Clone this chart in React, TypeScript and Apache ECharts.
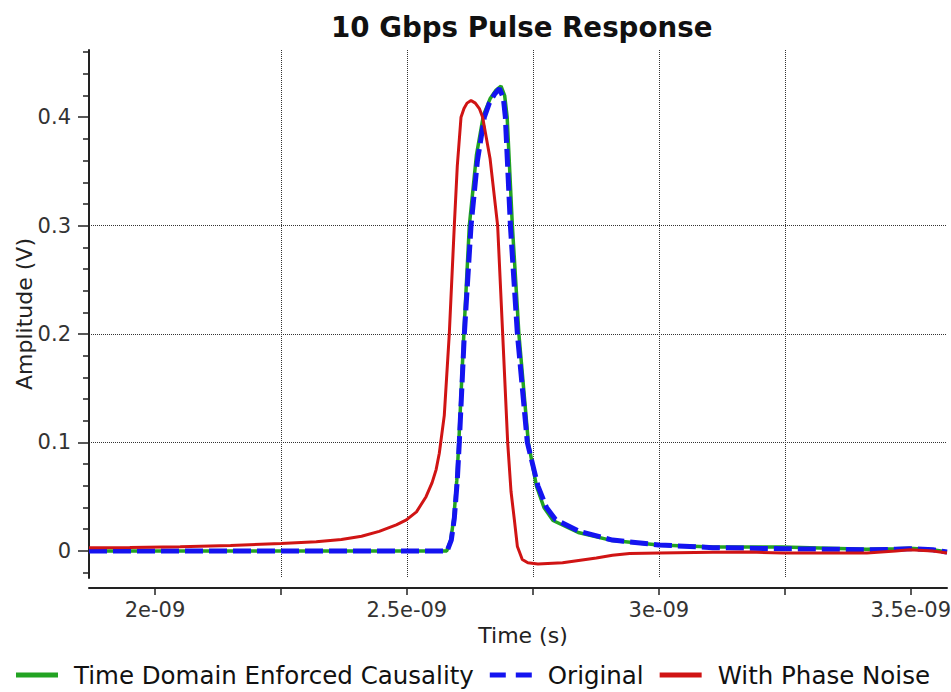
import React, { useEffect, useRef } from "react";
import * as echarts from "echarts";

// Time in ns (axis labels are shown in seconds, e.g. 2e-09)
const causTime = [1.869, 2.579, 2.587, 2.593, 2.599, 2.603, 2.608, 2.613, 2.6239, 2.638, 2.652, 2.665, 2.677, 2.6868, 2.694, 2.699, 2.7093, 2.7223, 2.741, 2.757, 2.772, 2.79, 2.84, 2.908, 3.0, 3.107, 3.246, 3.3, 3.413, 3.47, 3.498, 3.544, 3.572];
const causAmp = [0, 0, 0.01, 0.03, 0.065, 0.1, 0.15, 0.2, 0.3, 0.365, 0.402, 0.417, 0.425, 0.4286, 0.42, 0.4, 0.3, 0.2, 0.1, 0.06, 0.04, 0.028, 0.017, 0.0095, 0.0055, 0.0035, 0.0035, 0.003, 0.0015, 0.002, 0.0025, 0.001, -0.001];

const origTime = [1.869, 2.58, 2.5881, 2.5941, 2.6, 2.604, 2.609, 2.614, 2.6273, 2.64, 2.6537, 2.6636, 2.6736, 2.6835, 2.6914, 2.6954, 2.7054, 2.7193, 2.739, 2.76, 2.777, 2.795, 2.842, 2.908, 3.0, 3.107, 3.246, 3.35, 3.413, 3.47, 3.498, 3.544, 3.572];
const origAmp = [0, 0, 0.01, 0.03, 0.065, 0.1, 0.15, 0.2, 0.3, 0.36, 0.4, 0.413, 0.421, 0.4264, 0.418, 0.4, 0.3, 0.2, 0.1, 0.06, 0.04, 0.029, 0.018, 0.01, 0.0055, 0.003, 0.002, 0.0015, 0.001, 0.0015, 0.002, 0.001, -0.001];

const noiseTime = [1.869, 1.95, 2.05, 2.15, 2.25, 2.32, 2.37, 2.41, 2.445, 2.479, 2.499, 2.519, 2.538, 2.55, 2.558, 2.5643, 2.5742, 2.5841, 2.5941, 2.6, 2.6074, 2.6133, 2.6193, 2.6273, 2.6358, 2.6438, 2.6503, 2.665, 2.6801, 2.6901, 2.7, 2.7066, 2.7133, 2.7193, 2.729, 2.74, 2.76, 2.809, 2.876, 2.908, 2.942, 3.001, 3.107, 3.18, 3.246, 3.33, 3.413, 3.47, 3.498, 3.544, 3.572];
const noiseAmp = [0.003, 0.0032, 0.0038, 0.005, 0.0068, 0.0085, 0.0105, 0.0135, 0.018, 0.024, 0.0286, 0.036, 0.05, 0.063, 0.075, 0.09, 0.125, 0.2, 0.3, 0.355, 0.4, 0.408, 0.413, 0.4155, 0.413, 0.408, 0.4, 0.362, 0.3, 0.2, 0.1, 0.055, 0.0286, 0.004, -0.008, -0.011, -0.012, -0.011, -0.0065, -0.004, -0.0025, -0.002, -0.0012, -0.001, -0.002, -0.002, -0.002, 0.0, 0.001, 0.0, -0.002];

const seriesNames = ["Time Domain Enforced Causality", "Original", "With Phase Noise"];
const seriesColors = ["#22a322", "#1414f0", "#d01414"];

const xTickValues = [2, 2.25, 2.5, 2.75, 3, 3.25, 3.5];
const xLabelValues = [2, 2.5, 3, 3.5];
const xLabelTexts = ["2e-09", "2.5e-09", "3e-09", "3.5e-09"];
const yLabelValues = [0, 0.1, 0.2, 0.3, 0.4];
const yLabelTexts = ["0", "0.1", "0.2", "0.3", "0.4"];
const yMinorValues = [-0.02, 0.02, 0.04, 0.06, 0.08, 0.12, 0.14, 0.16, 0.18, 0.22, 0.24, 0.26, 0.28, 0.32, 0.34, 0.36, 0.38, 0.42, 0.44, 0.46];

const xMin = 1.869;
const xMax = 3.572;
const yMin = -0.025;
const yMax = 0.462;

const FONT = "DejaVu Sans";
const SOLID_ICON = "path://M0,0h42v5h-42z";
const DASH_ICON = "path://M0,0h16v5h-16z M26,0h16v5h-16z";

function zip(t: number[], v: number[]) {
  return t.map((x, i) => [x, v[i]]);
}

function findLabel(values: number[], texts: string[], v: number) {
  for (let i = 0; i < values.length; i++) {
    if (Math.abs(values[i] - v) < 1e-6) return texts[i];
  }
  return "";
}

export default function App() {
  const ref = useRef<HTMLDivElement>(null);

  useEffect(() => {
    document.body.style.margin = "0";
    const chart = echarts.init(ref.current!, undefined, { renderer: "svg" });
    const option: any = {
      animation: false,
      backgroundColor: "#ffffff",
      title: {
        text: "10 Gbps Pulse Response",
        left: 326,
        top: 8,
        textStyle: { fontFamily: FONT, fontSize: 27.7, fontWeight: "bold", color: "#111" },
      },
      grid: { left: 89, right: 4, top: 50, bottom: 114, outerBoundsMode: "none", containLabel: false },
      legend: {
        left: 16,
        top: 662,
        padding: 0,
        itemWidth: 46,
        itemHeight: 5,
        itemGap: 16,
        textStyle: { fontFamily: FONT, fontSize: 24.5, lineHeight: 26, color: "#111", padding: [0, 0, 0, 9] },
        data: [
          { name: seriesNames[0], icon: SOLID_ICON },
          { name: seriesNames[1], icon: DASH_ICON },
          { name: seriesNames[2], icon: SOLID_ICON },
        ],
      },
      xAxis: {
        type: "value",
        min: xMin,
        max: xMax,
        minInterval: 0.25,
        maxInterval: 0.25,
        offset: 10,
        name: "Time (s)",
        nameLocation: "middle",
        nameGap: 36,
        nameMoveOverlap: false,
        nameTextStyle: { fontFamily: FONT, fontSize: 22, color: "#222", padding: [0, 0, 0, 10] },
        axisLine: { show: true, onZero: false, lineStyle: { color: "#222", width: 2 } },
        axisTick: { show: true, length: 7, customValues: xTickValues, lineStyle: { color: "#222", width: 1.5 } },
        axisLabel: {
          show: true,
          margin: 11,
          customValues: xLabelValues,
          fontFamily: FONT,
          fontSize: 21,
          color: "#333",
          showMinLabel: true,
          showMaxLabel: true,
          formatter: (v: number) => findLabel(xLabelValues, xLabelTexts, v),
        },
        splitLine: {
          show: true,
          showMinLine: false,
          showMaxLine: false,
          lineStyle: { color: "#333", type: "dotted", width: 1 },
        },
      },
      yAxis: [
        {
          type: "value",
          min: yMin,
          max: yMax,
          minInterval: 0.1,
          maxInterval: 0.1,
          name: "Amplitude (V)",
          nameLocation: "middle",
          nameGap: 54,
          nameMoveOverlap: false,
          nameTextStyle: { fontFamily: FONT, fontSize: 22, color: "#222" },
          axisLine: { show: true, onZero: false, lineStyle: { color: "#222", width: 2 } },
          axisTick: { show: true, length: 11, customValues: yLabelValues, lineStyle: { color: "#222", width: 1.5 } },
          axisLabel: {
            show: true,
            margin: 18,
            customValues: yLabelValues,
            fontFamily: FONT,
            fontSize: 21,
            color: "#333",
            formatter: (v: number) => findLabel(yLabelValues, yLabelTexts, v),
          },
          splitLine: {
            show: true,
            showMinLine: false,
            showMaxLine: false,
            lineStyle: { color: "#333", type: "dotted", width: 1 },
          },
        },
        {
          type: "value",
          position: "left",
          offset: 0,
          min: yMin,
          max: yMax,
          minInterval: 0.02,
          maxInterval: 0.02,
          axisLine: { show: false },
          axisTick: { show: true, length: 6, customValues: yMinorValues, lineStyle: { color: "#222", width: 1.5 } },
          axisLabel: { show: false },
          splitLine: { show: false },
        },
      ],
      series: [
        {
          name: seriesNames[0],
          type: "line",
          data: zip(causTime, causAmp),
          showSymbol: false,
          symbol: "none",
          color: seriesColors[0],
          lineStyle: { color: seriesColors[0], width: 3.5 },
          z: 2,
        },
        {
          name: seriesNames[1],
          type: "line",
          data: zip(origTime, origAmp),
          showSymbol: false,
          symbol: "none",
          color: seriesColors[1],
          lineStyle: { color: seriesColors[1], width: 5, type: [18, 6] },
          z: 3,
        },
        {
          name: seriesNames[2],
          type: "line",
          data: zip(noiseTime, noiseAmp),
          showSymbol: false,
          symbol: "none",
          color: seriesColors[2],
          lineStyle: { color: seriesColors[2], width: 3 },
          z: 4,
        },
      ],
    };
    chart.setOption(option);
    return () => chart.dispose();
  }, []);

  return (
    <div
      ref={ref}
      style={{ position: "fixed", left: 0, top: 0, width: 951, height: 692, background: "#fff" }}
    />
  );
}
